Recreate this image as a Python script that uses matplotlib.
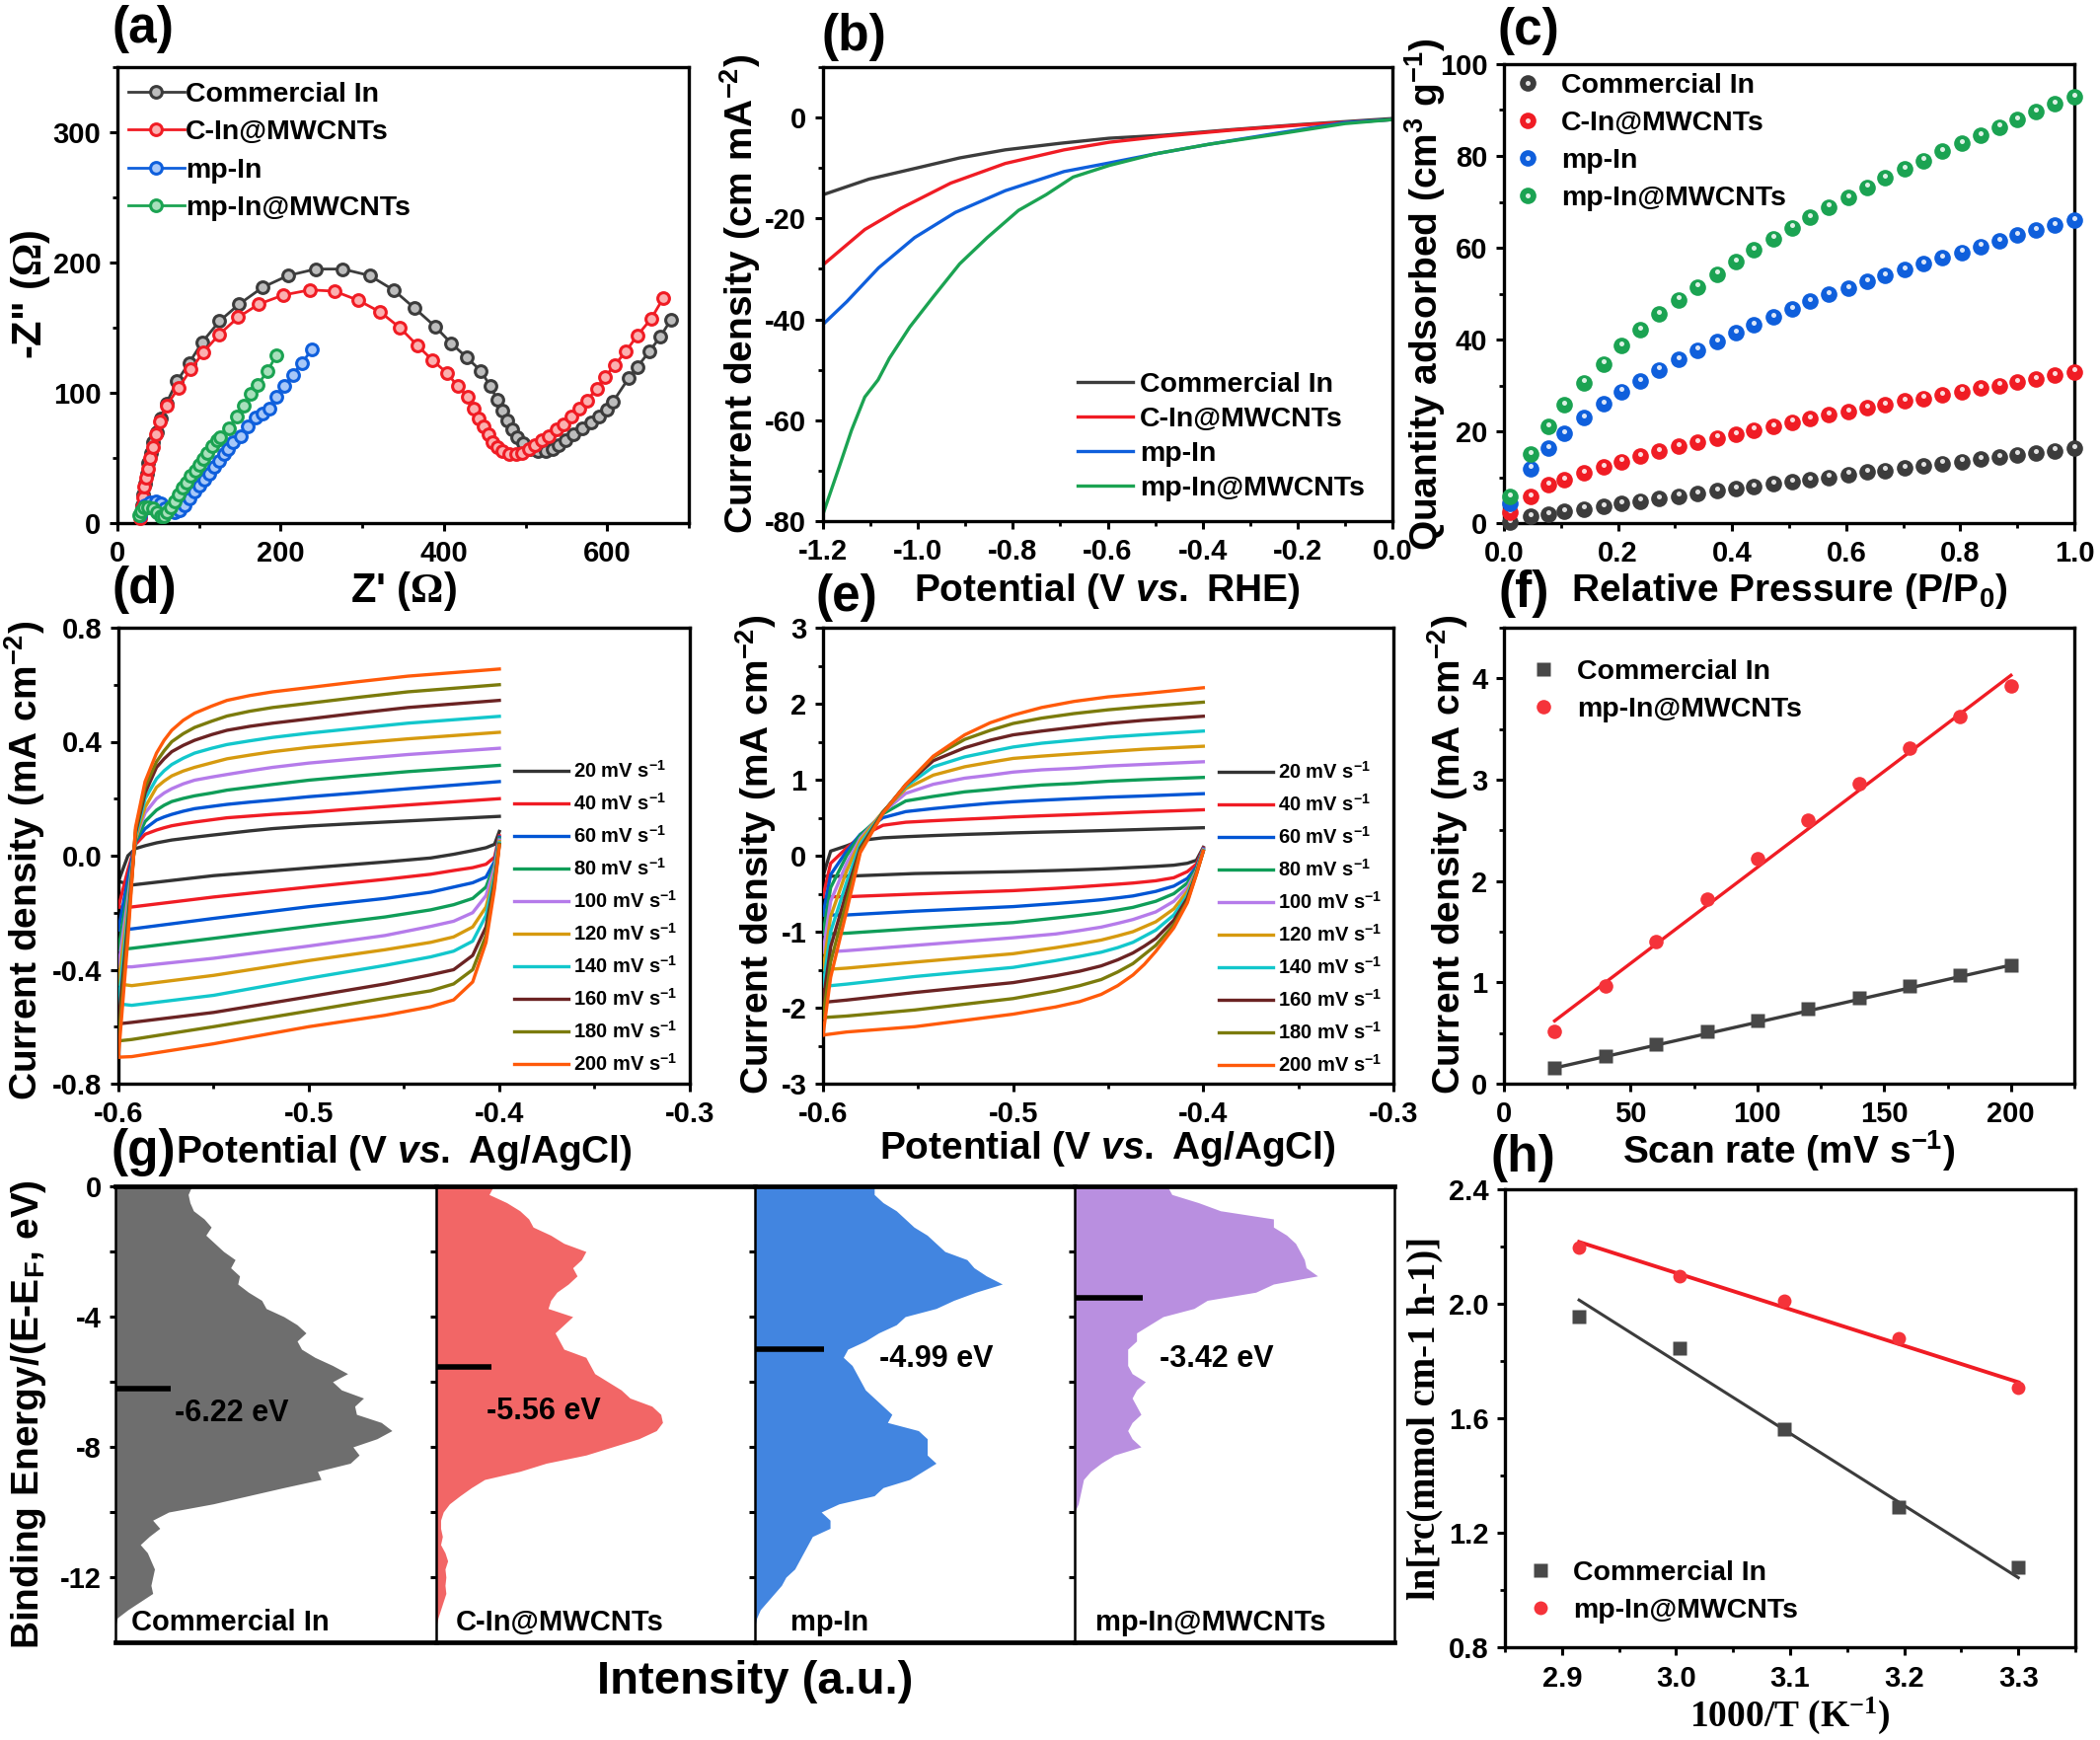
import matplotlib
matplotlib.use("Agg")
import matplotlib.pyplot as plt
from matplotlib.legend_handler import HandlerTuple
from matplotlib.ticker import MultipleLocator
from matplotlib.transforms import offset_copy

plt.rcParams['font.family'] = ['Liberation Sans', 'DejaVu Sans']
plt.rcParams['font.weight'] = 'bold'
plt.rcParams['axes.unicode_minus'] = False
plt.rcParams['mathtext.fontset'] = 'custom'
plt.rcParams['mathtext.rm'] = 'Liberation Sans:bold'
plt.rcParams['mathtext.it'] = 'Liberation Sans:italic:bold'
plt.rcParams['mathtext.bf'] = 'Liberation Serif'
plt.rcParams['mathtext.default'] = 'regular'

W, H = 2128, 1763

names4 = ['Commercial In', 'C-In@MWCNTs', 'mp-In', 'mp-In@MWCNTs']
names2 = ['Commercial In', 'mp-In@MWCNTs']
colors4 = ['#3c3c3c', '#f01c24', '#0f5fdc', '#1ba352']
tints4 = ['#bdbdbd', '#fbb0b0', '#a8c8f8', '#a8e0bc']

# (a) Nyquist
a_black_x = [28, 30, 32, 34, 36, 38, 41, 44, 48, 53, 60, 73, 88, 104, 125, 149, 178, 209, 243, 276, 309, 338, 364, 389, 409, 428, 445, 457, 465, 472, 478, 484, 490, 497, 505, 515, 525, 533, 541, 549, 558, 570, 580, 590, 600, 607, 626, 637, 652, 665, 678]
a_black_y = [5, 14, 22, 30, 38, 46, 54, 62, 70, 80, 92, 109, 123, 139, 155, 168, 181, 190, 195, 195, 190, 179, 165, 151, 138, 127, 117, 105, 95, 86, 79, 72, 66, 61, 57, 55, 55, 57, 60, 64, 68, 73, 77, 82, 87, 93, 111, 120, 132, 143, 156]
a_red_x = [28, 30, 31, 33, 35, 37, 40, 43, 47, 52, 60, 75, 90, 105, 125, 148, 173, 203, 236, 266, 295, 322, 346, 368, 386, 404, 417, 429, 436, 443, 448, 454, 460, 466, 472, 480, 488, 496, 504, 512, 520, 528, 538, 546, 556, 566, 575, 587, 597, 609, 623, 637, 654, 669]
a_red_y = [4, 12, 20, 28, 35, 42, 50, 58, 68, 78, 90, 104, 118, 131, 145, 158, 168, 175, 179, 178, 171, 162, 150, 136, 125, 115, 105, 97, 88, 80, 74, 68, 62, 58, 55, 53, 53, 54, 57, 60, 64, 67, 72, 76, 82, 88, 94, 103, 112, 121, 132, 144, 157, 173]
a_blue_x = [28, 30, 34, 40, 47, 53, 58, 63, 70, 76, 82, 88, 94, 100, 106, 112, 118, 124, 130, 136, 142, 151, 160, 169, 178, 186, 195, 204, 215, 226, 238]
a_blue_y = [6, 10, 14, 16, 17, 15, 11, 9, 8, 10, 14, 19, 24, 29, 33, 38, 43, 48, 53, 57, 62, 67, 74, 81, 84, 88, 97, 105, 114, 123, 133]
a_green_x = [26, 29, 33, 38, 43, 48, 53, 57, 60, 65, 70, 75, 80, 85, 90, 95, 100, 105, 110, 116, 122, 126, 137, 146, 155, 163, 172, 184, 195]
a_green_y = [6, 9, 12, 12, 11, 8, 5, 5, 8, 12, 17, 22, 27, 31, 36, 40, 45, 49, 54, 59, 64, 66, 73, 82, 90, 99, 106, 117, 129]

# (b) polarisation curves
b_black_x = [-1.2, -1.103, -0.998, -0.912, -0.816, -0.7, -0.597, -0.482, -0.339, -0.196, 0.0]
b_black_y = [-15.3, -12.2, -9.9, -8.0, -6.4, -5.1, -4.1, -3.5, -2.4, -1.4, -0.2]
b_red_x = [-1.2, -1.112, -1.036, -0.931, -0.816, -0.692, -0.597, -0.482, -0.339, -0.196, 0.0]
b_red_y = [-29.2, -22.2, -18.0, -13.0, -9.1, -6.4, -4.9, -3.7, -2.5, -1.5, -0.4]
b_blue_x = [-1.2, -1.15, -1.083, -1.007, -0.921, -0.816, -0.692, -0.597, -0.5, -0.387, -0.243, -0.1, 0.0]
b_blue_y = [-41.0, -36.5, -29.8, -23.8, -18.8, -14.5, -10.7, -9.0, -7.2, -5.3, -3.1, -1.0, -0.4]
b_green_x = [-1.2, -1.165, -1.14, -1.112, -1.084, -1.06, -1.017, -0.969, -0.912, -0.854, -0.788, -0.73, -0.673, -0.597, -0.5, -0.387, -0.243, -0.1, 0.0]
b_green_y = [-78.6, -69.0, -62.0, -55.4, -52.0, -47.7, -41.5, -35.7, -29.0, -23.8, -18.4, -15.3, -11.8, -9.5, -7.2, -5.3, -3.3, -1.2, -0.4]

# (c) adsorption
c_x = [0.011, 0.046, 0.078, 0.106, 0.14, 0.174, 0.206, 0.239, 0.272, 0.306, 0.339, 0.373, 0.406, 0.438, 0.472, 0.505, 0.537, 0.57, 0.603, 0.636, 0.668, 0.702, 0.735, 0.769, 0.802, 0.835, 0.868, 0.9, 0.933, 0.965, 1.0]
c_black = [0.2, 1.5, 1.9, 2.6, 3.1, 3.7, 4.2, 4.8, 5.4, 5.9, 6.4, 7.0, 7.5, 8.0, 8.5, 9.0, 9.5, 10.0, 10.6, 11.1, 11.5, 12.1, 12.5, 13.0, 13.4, 14.0, 14.4, 14.9, 15.3, 15.8, 16.3]
c_red = [2.3, 5.8, 8.3, 9.5, 10.9, 12.3, 13.4, 14.6, 15.7, 16.7, 17.6, 18.6, 19.4, 20.3, 21.1, 22.0, 22.8, 23.6, 24.3, 25.1, 25.8, 26.6, 27.2, 27.9, 28.7, 29.4, 30.0, 30.7, 31.4, 32.2, 33.0]
c_blue = [4.3, 11.9, 16.4, 19.6, 23.0, 26.0, 28.7, 31.0, 33.4, 35.6, 37.7, 39.6, 41.4, 43.2, 44.9, 46.6, 48.3, 49.8, 51.2, 52.6, 54.0, 55.3, 56.6, 57.9, 59.0, 60.3, 61.5, 62.7, 63.8, 64.9, 66.0]
c_green = [5.8, 15.1, 21.1, 25.8, 30.6, 34.7, 38.7, 42.1, 45.5, 48.7, 51.5, 54.3, 57.0, 59.6, 62.0, 64.4, 66.7, 68.9, 71.0, 73.2, 75.2, 77.2, 79.0, 81.0, 82.8, 84.5, 86.3, 88.0, 89.6, 91.3, 92.9]

# (d)/(e) CV loops
cv_rates = ['20 mV s$^{-1}$', '40 mV s$^{-1}$', '60 mV s$^{-1}$', '80 mV s$^{-1}$', '100 mV s$^{-1}$', '120 mV s$^{-1}$', '140 mV s$^{-1}$', '160 mV s$^{-1}$', '180 mV s$^{-1}$', '200 mV s$^{-1}$']
cv_colors = ['#333333', '#f01c24', '#0055d4', '#0f9d58', '#b57bea', '#d69a0f', '#12c7cc', '#6b2323', '#7b7b0c', '#ff5a0a']

d_up_v = [-0.6, -0.595, -0.591, -0.586, -0.58, -0.576, -0.572, -0.566, -0.56, -0.551, -0.543, -0.531, -0.519, -0.5, -0.475, -0.448, -0.4]
d_up = [
    [-0.09, 0.0, 0.025, 0.035, 0.045, 0.05, 0.055, 0.06, 0.065, 0.072, 0.078, 0.087, 0.095, 0.104, 0.113, 0.122, 0.138],
    [-0.18, -0.05, 0.04, 0.075, 0.09, 0.098, 0.105, 0.112, 0.118, 0.126, 0.133, 0.139, 0.145, 0.152, 0.165, 0.178, 0.2],
    [-0.26, -0.08, 0.05, 0.095, 0.125, 0.136, 0.145, 0.156, 0.165, 0.173, 0.18, 0.188, 0.195, 0.207, 0.22, 0.235, 0.26],
    [-0.33, -0.12, 0.05, 0.12, 0.16, 0.177, 0.19, 0.201, 0.21, 0.22, 0.23, 0.24, 0.25, 0.265, 0.28, 0.295, 0.317],
    [-0.39, -0.15, 0.06, 0.15, 0.2, 0.22, 0.235, 0.252, 0.265, 0.276, 0.285, 0.298, 0.31, 0.325, 0.34, 0.355, 0.377],
    [-0.45, -0.18, 0.06, 0.17, 0.24, 0.262, 0.28, 0.297, 0.31, 0.326, 0.34, 0.353, 0.365, 0.38, 0.395, 0.41, 0.433],
    [-0.52, -0.2, 0.07, 0.2, 0.27, 0.298, 0.32, 0.342, 0.36, 0.377, 0.39, 0.403, 0.415, 0.43, 0.447, 0.465, 0.489],
    [-0.59, -0.23, 0.08, 0.22, 0.31, 0.34, 0.365, 0.387, 0.405, 0.425, 0.44, 0.454, 0.465, 0.48, 0.5, 0.52, 0.545],
    [-0.65, -0.26, 0.09, 0.24, 0.33, 0.368, 0.4, 0.428, 0.45, 0.472, 0.49, 0.507, 0.52, 0.535, 0.555, 0.575, 0.6],
    [-0.707, -0.29, 0.1, 0.26, 0.36, 0.405, 0.44, 0.475, 0.5, 0.525, 0.545, 0.562, 0.575, 0.59, 0.61, 0.63, 0.655],
]
d_low_v = [-0.4, -0.4025, -0.407, -0.414, -0.424, -0.436, -0.46, -0.5, -0.55, -0.593, -0.6]
d_low = [
    [0.085, 0.04, 0.028, 0.018, 0.005, -0.008, -0.022, -0.043, -0.07, -0.103, -0.09],
    [0.07, -0.005, -0.03, -0.042, -0.052, -0.065, -0.083, -0.11, -0.145, -0.18, -0.18],
    [0.065, -0.02, -0.075, -0.095, -0.11, -0.128, -0.15, -0.179, -0.22, -0.257, -0.26],
    [0.06, -0.03, -0.11, -0.15, -0.172, -0.19, -0.215, -0.248, -0.29, -0.325, -0.33],
    [0.055, -0.04, -0.14, -0.2, -0.23, -0.248, -0.28, -0.317, -0.36, -0.39, -0.39],
    [0.05, -0.06, -0.18, -0.25, -0.285, -0.304, -0.33, -0.368, -0.42, -0.456, -0.45],
    [0.045, -0.07, -0.21, -0.3, -0.335, -0.355, -0.385, -0.43, -0.49, -0.525, -0.52],
    [0.04, -0.09, -0.25, -0.35, -0.4, -0.418, -0.45, -0.495, -0.55, -0.585, -0.59],
    [0.04, -0.1, -0.28, -0.4, -0.45, -0.474, -0.5, -0.545, -0.6, -0.645, -0.65],
    [0.035, -0.115, -0.304, -0.443, -0.506, -0.53, -0.56, -0.6, -0.66, -0.705, -0.707],
]
e_up_v = [-0.6, -0.596, -0.5876, -0.5804, -0.5685, -0.5565, -0.542, -0.5255, -0.512, -0.5, -0.485, -0.468, -0.45, -0.432, -0.4]
e_up = [
    [-0.27, 0.06, 0.13, 0.2, 0.235, 0.25, 0.265, 0.28, 0.29, 0.3, 0.31, 0.32, 0.332, 0.345, 0.368],
    [-0.54, -0.1, 0.1, 0.25, 0.4, 0.44, 0.46, 0.48, 0.495, 0.51, 0.525, 0.54, 0.557, 0.575, 0.604],
    [-0.78, -0.25, 0.06, 0.28, 0.5, 0.58, 0.62, 0.66, 0.69, 0.71, 0.73, 0.75, 0.77, 0.785, 0.816],
    [-1.03, -0.42, 0.0, 0.27, 0.55, 0.72, 0.78, 0.84, 0.87, 0.9, 0.93, 0.95, 0.98, 1.0, 1.03],
    [-1.27, -0.6, -0.1, 0.23, 0.57, 0.82, 0.94, 1.02, 1.06, 1.1, 1.13, 1.15, 1.18, 1.2, 1.236],
    [-1.5, -0.8, -0.2, 0.2, 0.58, 0.88, 1.06, 1.17, 1.23, 1.28, 1.31, 1.34, 1.37, 1.4, 1.44],
    [-1.72, -1.0, -0.35, 0.15, 0.57, 0.91, 1.17, 1.3, 1.37, 1.43, 1.48, 1.52, 1.56, 1.59, 1.64],
    [-1.93, -1.2, -0.48, 0.1, 0.57, 0.93, 1.25, 1.42, 1.52, 1.59, 1.64, 1.69, 1.74, 1.78, 1.835],
    [-2.13, -1.4, -0.6, 0.07, 0.56, 0.935, 1.3, 1.53, 1.65, 1.74, 1.81, 1.87, 1.92, 1.96, 2.02],
    [-2.36, -1.6, -0.73, 0.04, 0.557, 0.934, 1.31, 1.59, 1.75, 1.85, 1.95, 2.03, 2.09, 2.13, 2.21],
]
e_low_v = [-0.4, -0.4036, -0.4084, -0.4155, -0.425, -0.431, -0.437, -0.445, -0.4537, -0.465, -0.4776, -0.5, -0.5517, -0.5876, -0.6]
e_low = [
    [0.11, -0.06, -0.1, -0.125, -0.14, -0.148, -0.155, -0.165, -0.175, -0.185, -0.195, -0.21, -0.235, -0.27, -0.27],
    [0.1, -0.11, -0.21, -0.29, -0.33, -0.345, -0.36, -0.375, -0.39, -0.41, -0.43, -0.46, -0.505, -0.54, -0.54],
    [0.09, -0.15, -0.3, -0.4, -0.47, -0.5, -0.53, -0.555, -0.58, -0.605, -0.63, -0.67, -0.73, -0.78, -0.78],
    [0.08, -0.17, -0.36, -0.5, -0.6, -0.64, -0.68, -0.715, -0.75, -0.785, -0.82, -0.88, -0.96, -1.02, -1.03],
    [0.08, -0.2, -0.42, -0.6, -0.74, -0.79, -0.84, -0.89, -0.94, -0.985, -1.03, -1.08, -1.18, -1.25, -1.27],
    [0.07, -0.21, -0.47, -0.7, -0.87, -0.935, -1.0, -1.055, -1.11, -1.16, -1.21, -1.29, -1.4, -1.48, -1.5],
    [0.07, -0.22, -0.52, -0.78, -0.98, -1.06, -1.14, -1.21, -1.27, -1.325, -1.38, -1.47, -1.59, -1.69, -1.72],
    [0.06, -0.23, -0.56, -0.85, -1.09, -1.19, -1.28, -1.37, -1.45, -1.52, -1.58, -1.67, -1.8, -1.9, -1.93],
    [0.06, -0.24, -0.6, -0.91, -1.18, -1.3, -1.42, -1.53, -1.63, -1.71, -1.78, -1.88, -2.03, -2.11, -2.13],
    [0.06, -0.245, -0.62, -0.95, -1.26, -1.43, -1.57, -1.71, -1.825, -1.92, -1.99, -2.085, -2.25, -2.32, -2.36],
]

# (f) capacitance fit
f_x = [20, 40, 60, 80, 100, 120, 140, 160, 180, 200]
f_black = [0.152, 0.272, 0.393, 0.516, 0.622, 0.736, 0.849, 0.966, 1.07, 1.17]
f_red = [0.513, 0.965, 1.4, 1.82, 2.22, 2.6, 2.96, 3.31, 3.625, 3.93]
f_fit_x = [20, 200]
f_black_fit = [0.155, 1.17]
f_red_fit = [0.62, 4.03]

# (g) d-band DOS
g_e = [0, -0.25, -0.5, -0.75, -1, -1.25, -1.5, -1.75, -2, -2.25, -2.5, -2.75, -3, -3.25, -3.5, -3.75, -4, -4.25, -4.5, -4.75, -5, -5.25, -5.5, -5.75, -6, -6.25, -6.5, -6.75, -7, -7.25, -7.5, -7.75, -8, -8.25, -8.5, -8.75, -9, -9.25, -9.5, -9.75, -10, -10.25, -10.5, -10.75, -11, -11.25, -11.5, -11.75, -12, -12.25, -12.5, -12.75, -13, -13.25, -13.5, -13.75]
g_i1 = [86, 82, 84, 88, 100, 108, 102, 112, 122, 135, 130, 140, 138, 150, 165, 170, 190, 205, 215, 205, 210, 225, 245, 262, 245, 255, 280, 270, 272, 300, 312, 295, 268, 275, 265, 228, 232, 190, 150, 110, 60, 42, 50, 38, 28, 36, 40, 44, 42, 40, 42, 28, 14, 2, 0, 0]
g_i2 = [65, 60, 80, 95, 105, 110, 130, 145, 170, 165, 155, 160, 150, 137, 130, 127, 155, 145, 135, 140, 145, 170, 175, 180, 195, 210, 220, 245, 255, 257, 250, 230, 200, 170, 125, 95, 55, 40, 27, 15, 8, 5, 5, 7, 5, 10, 13, 10, 11, 10, 11, 8, 5, 2, 0, 0]
g_i3 = [135, 135, 145, 160, 170, 180, 195, 205, 215, 240, 248, 262, 280, 250, 225, 205, 170, 160, 140, 125, 105, 100, 110, 115, 120, 125, 135, 145, 155, 150, 185, 195, 195, 195, 205, 190, 175, 145, 135, 95, 75, 85, 85, 65, 60, 55, 50, 45, 35, 30, 22, 14, 6, 2, 0, 0]
g_i4 = [105, 110, 140, 165, 225, 225, 240, 250, 255, 260, 262, 275, 225, 205, 150, 135, 100, 85, 70, 70, 60, 60, 60, 65, 80, 70, 65, 70, 75, 65, 60, 65, 75, 45, 30, 18, 10, 8, 6, 4, 0, 0, 0, 0, 0, 0, 0, 0, 0, 0, 0, 0, 0, 0, 0, 0]
g_colors = ['#6e6e6e', '#f26666', '#4285e0', '#b98fe0']
g_levels = [-6.22, -5.56, -4.99, -3.42]
g_level_len = [62, 63, 78, 77]
g_level_text = ['-6.22 eV', '-5.56 eV', '-4.99 eV', '-3.42 eV']
g_text_x = [131, 122, 205, 161]
g_text_e = [-6.97, -6.9, -5.3, -5.3]
g_name_x = [130, 140, 84, 154]

# (h) Arrhenius
h_x = [2.915, 3.003, 3.095, 3.195, 3.3]
h_black = [1.954, 1.844, 1.561, 1.291, 1.08]
h_red = [2.197, 2.097, 2.01, 1.879, 1.706]
h_fit_x = [2.915, 3.3]
h_black_fit = [2.013, 1.043]
h_red_fit = [2.216, 1.726]

fig = plt.figure(figsize=(W / 100, H / 100), dpi=100)


def ax_at(left, top, right, bottom):
    ax = fig.add_axes([left / W, 1 - bottom / H, (right - left) / W, (bottom - top) / H])
    for s in ax.spines.values():
        s.set_linewidth(2.4)
    ax.tick_params(which='major', length=6, width=2.2, labelsize=21, pad=6)
    ax.tick_params(which='minor', length=3.5, width=2)
    return ax


def txt(x, y, s, size=28, rot=0, **kw):
    fig.text(x / W, 1 - y / H, s, fontsize=size, rotation=rot, ha='center', va='center', **kw)


def leg(ax, handles, labels, x, y, size, spacing, hlen, pad, **kw):
    return ax.legend(handles, labels, loc='upper left', bbox_to_anchor=(x / W, 1 - y / H),
                     bbox_transform=fig.transFigure, frameon=False, borderpad=0, borderaxespad=0,
                     fontsize=size, labelspacing=spacing, handlelength=hlen, handletextpad=pad,
                     numpoints=1, **kw)


# panel a
ax = ax_at(119, 68, 698, 530)
series = [(a_black_x, a_black_y), (a_red_x, a_red_y), (a_blue_x, a_blue_y), (a_green_x, a_green_y)]
hs = []
for i, (x, y) in enumerate(series):
    h, = ax.plot(x, y, '-o', color=colors4[i], mfc=tints4[i], mec=colors4[i], mew=2.2, ms=8.5, lw=2, clip_on=False, zorder=3 + i)
    hs.append(h)
ax.set_xlim(0, 700)
ax.set_ylim(0, 350)
ax.set_xticks([0, 200, 400, 600])
ax.set_yticks([0, 100, 200, 300])
ax.xaxis.set_minor_locator(MultipleLocator(100))
ax.yaxis.set_minor_locator(MultipleLocator(50))
leg(ax, hs, names4, 130, 83, 20.5, 0.435, 2.0, 0.05)

# panel b
ax = ax_at(834, 68, 1411, 528)
series = [(b_black_x, b_black_y), (b_red_x, b_red_y), (b_blue_x, b_blue_y), (b_green_x, b_green_y)]
hs = []
for i, (x, y) in enumerate(series):
    h, = ax.plot(x, y, color=colors4[i], lw=2.4)
    hs.append(h)
ax.set_xlim(-1.2, 0)
ax.set_ylim(-80, 10)
ax.set_xticks([-1.2, -1.0, -0.8, -0.6, -0.4, -0.2, 0.0])
ax.set_yticks([-80, -60, -40, -20, 0])
ax.xaxis.set_minor_locator(MultipleLocator(0.1))
ax.yaxis.set_minor_locator(MultipleLocator(10))
leg(ax, hs, names4, 1092, 377, 20.5, 0.32, 1.95, 0.25)

# panel c
ax = ax_at(1524, 65, 2102, 530)
hi_tr = offset_copy(ax.transData, fig, x=0, y=1.6, units='points')
hs = []
for i, yv in enumerate([c_black, c_red, c_blue, c_green]):
    h, = ax.plot(c_x, yv, 'o', color=colors4[i], ms=12, clip_on=False, zorder=3 + i, mec='none')
    hi, = ax.plot(c_x, yv, 'o', color='white', ms=3.6, alpha=0.85, clip_on=False, zorder=3 + i, mec='none', transform=hi_tr)
    hs.append((h, hi))
ax.set_xlim(0, 1)
ax.set_ylim(0, 100)
ax.set_xticks([0, 0.2, 0.4, 0.6, 0.8, 1.0])
ax.set_yticks([0, 20, 40, 60, 80, 100])
ax.xaxis.set_minor_locator(MultipleLocator(0.1))
ax.yaxis.set_minor_locator(MultipleLocator(10))
leg(ax, hs, names4, 1534, 74, 20.5, 0.42, 1.0, 0.68, handler_map={tuple: HandlerTuple(ndivide=1, pad=0)})

# panels d, e
for box, up_v, up, low_v, low, ylim, yt, ym, lx, ly in [
    ((120, 636, 699, 1098), d_up_v, d_up, d_low_v, d_low, (-0.8, 0.8), [-0.8, -0.4, 0.0, 0.4, 0.8], 0.2, 521, 770),
    ((834, 636, 1412, 1098), e_up_v, e_up, e_low_v, e_low, (-3, 3), [-3, -2, -1, 0, 1, 2, 3], 0.5, 1235, 771),
]:
    ax = ax_at(*box)
    hs = []
    for i in range(10):
        ax.plot(low_v, low[i], color=cv_colors[i], lw=2.4, zorder=2 + i)
        h, = ax.plot(up_v, up[i], color=cv_colors[i], lw=2.4, zorder=2 + i)
        hs.append(h)
    ax.set_xlim(-0.6, -0.3)
    ax.set_ylim(*ylim)
    ax.set_xticks([-0.6, -0.5, -0.4, -0.3])
    ax.set_yticks(yt)
    ax.xaxis.set_minor_locator(MultipleLocator(0.05))
    ax.yaxis.set_minor_locator(MultipleLocator(ym))
    leg(ax, hs, cv_rates, lx, ly, 14.5, 0.55, 2.75, 0.25)

# panel f
ax = ax_at(1524, 636, 2102, 1098)
ax.plot(f_fit_x, f_black_fit, color=colors4[0], lw=2.4, zorder=2)
ax.plot(f_fit_x, f_red_fit, color='#f01c24', lw=2.4, zorder=2)
h1, = ax.plot(f_x, f_black, 's', color='#484848', ms=10, mec='none', zorder=3)
h2, = ax.plot(f_x, f_red, 'o', color='#f5333a', ms=10.5, mec='none', zorder=3)
ax.set_xlim(0, 225)
ax.set_ylim(0, 4.5)
ax.set_xticks([0, 50, 100, 150, 200])
ax.set_yticks([0, 1, 2, 3, 4])
ax.xaxis.set_minor_locator(MultipleLocator(25))
ax.yaxis.set_minor_locator(MultipleLocator(0.5))
leg(ax, [h1, h2], names2, 1550, 668, 20.5, 0.42, 1.0, 0.68)

# panel g
for i, (gi, c) in enumerate(zip([g_i1, g_i2, g_i3, g_i4], g_colors)):
    left = [117, 442, 765, 1089][i]
    right = [442, 765, 1089, 1413][i]
    ax = ax_at(left, 1202, right, 1664)
    ax.fill_betweenx(g_e, 0, gi, color=c, lw=0)
    ax.plot([0, g_level_len[i]], [g_levels[i], g_levels[i]], color='black', lw=4, solid_capstyle='butt')
    ax.text(g_text_x[i], g_text_e[i], g_level_text[i], fontsize=22, ha='center', va='center')
    ax.text(g_name_x[i], -13.4, names4[i], fontsize=21, ha='center', va='center')
    ax.set_xlim(0, 362)
    ax.set_ylim(-14, 0)
    ax.set_xticks([])
    ax.set_yticks([0, -2, -4, -6, -8, -10, -12])
    if i == 0:
        ax.set_yticklabels(['0', '', '-4', '', '-8', '', '-12'])
    else:
        ax.set_yticklabels([])
    ax.tick_params(axis='y', length=4, width=2.2)
    ax.spines['top'].set_linewidth(3.4)
    ax.spines['bottom'].set_linewidth(3.4)
    ax.spines['left'].set_linewidth(1.8)
    ax.spines['right'].set_visible(i == 3)
    ax.spines['right'].set_linewidth(1.8)

# panel h
ax = ax_at(1525, 1205, 2103, 1669)
ax.plot(h_fit_x, h_black_fit, color=colors4[0], lw=2.2, zorder=2)
ax.plot(h_fit_x, h_red_fit, color='#f01c24', lw=2.8, zorder=2)
h1, = ax.plot(h_x, h_black, 's', color='#484848', ms=9.5, mec='none', zorder=3)
h2, = ax.plot(h_x, h_red, 'o', color='#f5333a', ms=10, mec='none', zorder=3)
ax.set_xlim(2.85, 3.35)
ax.set_ylim(0.8, 2.4)
ax.set_xticks([2.9, 3.0, 3.1, 3.2, 3.3])
ax.set_yticks([0.8, 1.2, 1.6, 2.0, 2.4])
ax.tick_params(axis='x', which='major', pad=7)
ax.xaxis.set_minor_locator(MultipleLocator(0.05))
ax.yaxis.set_minor_locator(MultipleLocator(0.2))
leg(ax, [h1, h2], names2, 1547, 1581, 20.5, 0.42, 1.0, 0.65)

# axis titles
txt(409, 599, "Z' ($\\mathbf{\\Omega}$)", size=30)
txt(31, 298, '-Z" ($\\mathbf{\\Omega}$)', size=30, rot=90)
txt(1122, 599, 'Potential (V $\\mathit{vs.}$ RHE)')
txt(750, 298, 'Current density (cm mA$^{-2}$)', rot=90)
txt(1813, 599, 'Relative Pressure (P/P$_{0}$)')
txt(1444, 298, 'Quantity adsorbed (cm$^{3}$ g$^{-1}$)', rot=90)
txt(409, 1168, 'Potential (V $\\mathit{vs.}$ Ag/AgCl)')
txt(25, 872, 'Current density (mA cm$^{-2}$)', rot=90)
txt(1122, 1164, 'Potential (V $\\mathit{vs.}$ Ag/AgCl)')
txt(766, 866, 'Current density (mA cm$^{-2}$)', rot=90)
txt(1813, 1166, 'Scan rate (mV s$^{-1}$)')
txt(1467, 866, 'Current density (mA cm$^{-2}$)', rot=90)
txt(29, 1433, 'Binding Energy/(E-E$_{F}$, eV)', rot=90)
txt(765, 1704, 'Intensity (a.u.)', size=34)
txt(1814, 1738, '1000/T (K$^{-1}$)', size=27, family='Liberation Serif')
txt(1444, 1437, 'ln[rc(mmol cm-1 h-1)]', rot=90, family='Liberation Serif')

# panel letters
for s, x, y in [('(a)', 145, 30), ('(b)', 865, 38), ('(c)', 1549, 31), ('(d)', 146, 597),
                ('(e)', 858, 605), ('(f)', 1544, 601), ('(g)', 145, 1167), ('(h)', 1543, 1173)]:
    txt(x, y, s, size=37)

fig.savefig('out.png', dpi=100)
